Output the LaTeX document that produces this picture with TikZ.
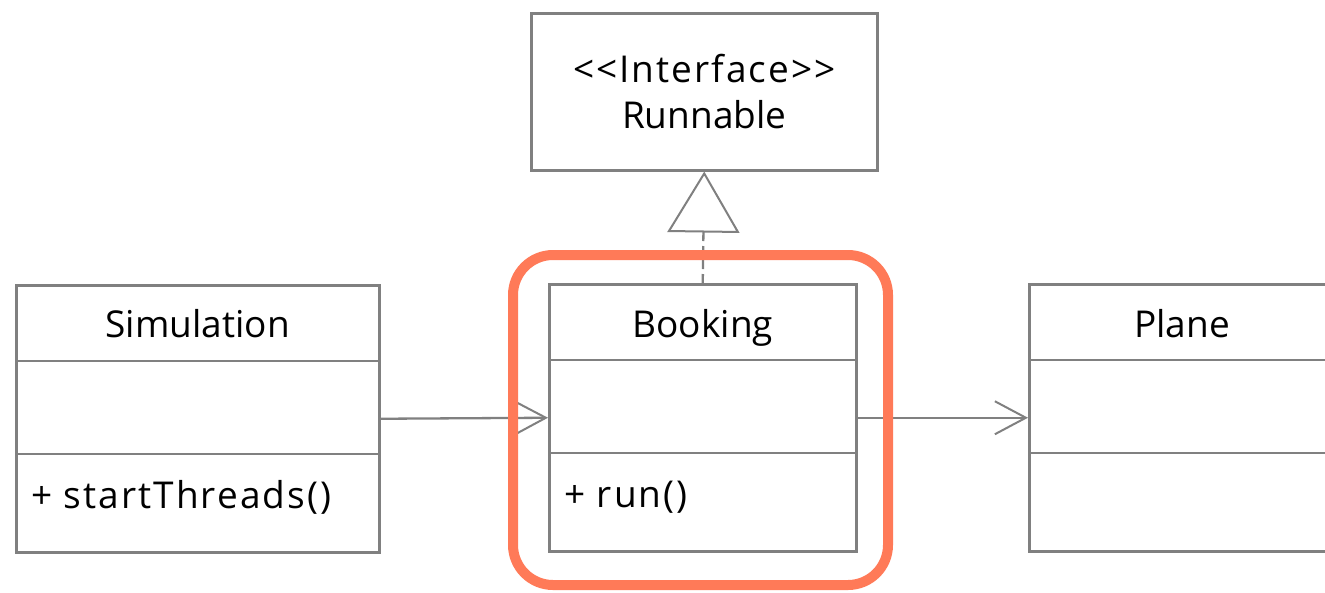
\documentclass[tikz,border=0pt]{standalone}
\usepackage{fontspec}
\setmainfont{Open Sans}
\usetikzlibrary{arrows.meta,calc}
\definecolor{linegray}{RGB}{128,128,128}
\definecolor{hlorange}{RGB}{255,122,88}
\newcommand{\widertext}[1]{{\addfontfeature{LetterSpace=5.5}#1}}
\begin{document}
\begin{tikzpicture}[x=1pt,y=-1pt,
  every node/.style={font=\fontsize{37}{47}\selectfont, text=black},
  classbox/.style={draw=linegray, line width=2.5pt, minimum width=#1, minimum height=267pt, anchor=north west, inner sep=0pt},
  divider/.style={draw=linegray, line width=2.5pt},
  conn/.style={draw=linegray, line width=2.3pt},
  assoc/.style={conn, -{Straight Barb[length=31pt, width=33pt, line width=2pt]}},
  realize/.style={conn, dash pattern=on 9pt off 5pt, -{Triangle[open, length=61pt, width=72pt, line width=2pt, fill=white]}},
  highlight/.style={draw=hlorange, line width=10pt, rounded corners=40pt, inner sep=0pt}]
\clip (0,0) rectangle (1325,592);
\fill[white] (0,0) rectangle (1325,592);
% interface
\node[draw=linegray, line width=2.5pt, minimum width=346pt, minimum height=157pt, anchor=north west, inner sep=0pt, align=center] (iface) at (530,12) {\raisebox{-1pt}{\widertext{<{}<Interface>{}>}}\\Runnable};
% classes
\node[classbox=363pt] (sim) at (15,284) {};
\node[classbox=307pt] (book) at (548,283) {};
\node[classbox=330pt] (plane) at (1028,283) {};
\foreach \c in {sim,book,plane}{
  \draw[divider] ($(\c.north west)+(0,77)$) -- ($(\c.north east)+(0,77)$);
  \draw[divider] ($(\c.north west)+(0,170)$) -- ($(\c.north east)+(0,170)$);
}
\node[anchor=base] (simt) at ($(sim.north)+(0,53)$) {Simulation};
\node[anchor=base] (bookt) at ($(book.north)+(0,54)$) {Booking};
\node[anchor=base] (planet) at (1182,337) {Plane};
\node[anchor=base west, inner sep=0pt] (simop) at ($(sim.north west)+(16,224)$) {\widertext{+ startThreads()}};
\node[anchor=base west, inner sep=0pt] (bookop) at ($(book.north west)+(16,224)$) {\widertext{+ run()}};
% connectors
\draw[assoc] (sim.east) -- (book.west);
\draw[assoc] (book.east) -- (plane.west);
\draw[realize] (book.north) -- (iface.south);
% highlight
\node[highlight, minimum width=375pt, minimum height=330pt] (hl) at (700.5,420) {};
\end{tikzpicture}
\end{document}
